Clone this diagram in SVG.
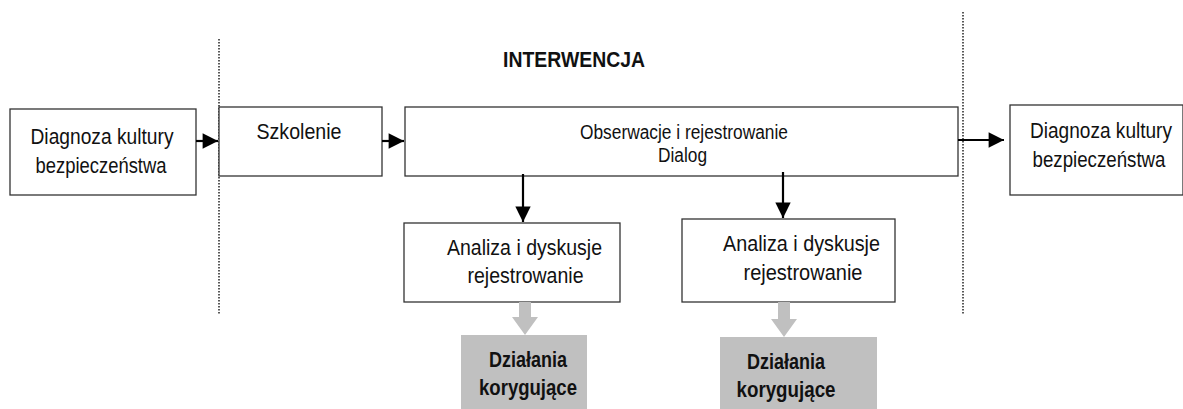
<svg xmlns="http://www.w3.org/2000/svg" width="1183" height="409" viewBox="0 0 1183 409">
<defs>
<style>
.box{fill:#fff;stroke:#333;stroke-width:1.3}
.gbox{fill:#c0c0c0;stroke:none}
.t{font-family:"Liberation Sans",Arial,sans-serif;font-size:21.5px;fill:#111;text-anchor:middle}
.s{font-size:20px}
.b{font-family:"Liberation Sans",Arial,sans-serif;font-size:21.5px;font-weight:bold;fill:#111;text-anchor:middle}
.ln{stroke:#000;stroke-width:2.2;fill:none}
.dot{stroke:#222;stroke-width:1.5;stroke-dasharray:1.5 1.5;fill:none}
.garrow{fill:#c0c0c0;stroke:none}
</style>
<marker id="ah" viewBox="0 0 10 10" refX="10" refY="5" markerWidth="7.5" markerHeight="7" markerUnits="strokeWidth" orient="auto">
<path d="M0,0 L10,5 L0,10 z" fill="#000"/>
</marker>
</defs>
<rect width="1183" height="409" fill="#fff"/>
<g id="dividers">
<line class="dot" x1="219" y1="39" x2="219" y2="315"/>
<line class="dot" x1="963" y1="12" x2="963" y2="315"/>
</g>
<g id="title">
<text class="b" x="574" y="67" textLength="142" lengthAdjust="spacingAndGlyphs">INTERWENCJA</text>
</g>
<g id="diag1">
<rect class="box" x="10" y="109" width="186" height="86"/>
<text class="t" x="102" y="144" textLength="143" lengthAdjust="spacingAndGlyphs">Diagnoza kultury</text>
<text class="t" x="101" y="173" textLength="131" lengthAdjust="spacingAndGlyphs">bezpieczeństwa</text>
</g>
<g id="szkolenie">
<rect class="box" x="219" y="107" width="163" height="69"/>
<text class="t" x="299" y="139" textLength="85" lengthAdjust="spacingAndGlyphs">Szkolenie</text>
</g>
<g id="obserwacje">
<rect class="box" x="405" y="107" width="553" height="69"/>
<text class="t s" x="684" y="139" textLength="208" lengthAdjust="spacingAndGlyphs">Obserwacje i rejestrowanie</text>
<text class="t s" x="682.5" y="162" textLength="49" lengthAdjust="spacingAndGlyphs">Dialog</text>
</g>
<g id="diag2">
<rect class="box" x="1010" y="105" width="173" height="90"/>
<text class="t" x="1101" y="138" textLength="142" lengthAdjust="spacingAndGlyphs">Diagnoza kultury</text>
<text class="t" x="1099" y="167" textLength="133" lengthAdjust="spacingAndGlyphs">bezpieczeństwa</text>
</g>
<g id="analiza1">
<rect class="box" x="404" y="223" width="216" height="79"/>
<text class="t" x="524.5" y="255" textLength="155" lengthAdjust="spacingAndGlyphs">Analiza i dyskusje</text>
<text class="t" x="525.5" y="283" textLength="116" lengthAdjust="spacingAndGlyphs">rejestrowanie</text>
</g>
<g id="analiza2">
<rect class="box" x="682" y="219" width="213" height="83"/>
<text class="t" x="801.5" y="251" textLength="157" lengthAdjust="spacingAndGlyphs">Analiza i dyskusje</text>
<text class="t" x="803" y="280" textLength="119" lengthAdjust="spacingAndGlyphs">rejestrowanie</text>
</g>
<g id="dzialania1">
<rect class="gbox" x="461" y="335" width="126" height="80"/>
<text class="b" x="528" y="367" textLength="78" lengthAdjust="spacingAndGlyphs">Działania</text>
<text class="b" x="528" y="395" textLength="98" lengthAdjust="spacingAndGlyphs">korygujące</text>
</g>
<g id="dzialania2">
<rect class="gbox" x="720" y="337" width="157" height="80"/>
<text class="b" x="786" y="369" textLength="78" lengthAdjust="spacingAndGlyphs">Działania</text>
<text class="b" x="786" y="397" textLength="99" lengthAdjust="spacingAndGlyphs">korygujące</text>
</g>
<g id="connectors">
<line class="ln" x1="196" y1="141" x2="218" y2="141" marker-end="url(#ah)"/>
<line class="ln" x1="382" y1="141" x2="404" y2="141" marker-end="url(#ah)"/>
<line class="ln" x1="958" y1="140" x2="1004" y2="140" marker-end="url(#ah)"/>
<line class="ln" x1="523" y1="174" x2="523" y2="222" marker-end="url(#ah)"/>
<line class="ln" x1="783" y1="172" x2="783" y2="218" marker-end="url(#ah)"/>
<path class="garrow" d="M519,302 H531 V317 H538 L525,335 L512,317 H519 Z"/>
<path class="garrow" d="M778,302 H790 V319 H797 L784,337 L771,319 H778 Z"/>
</g>
</svg>
